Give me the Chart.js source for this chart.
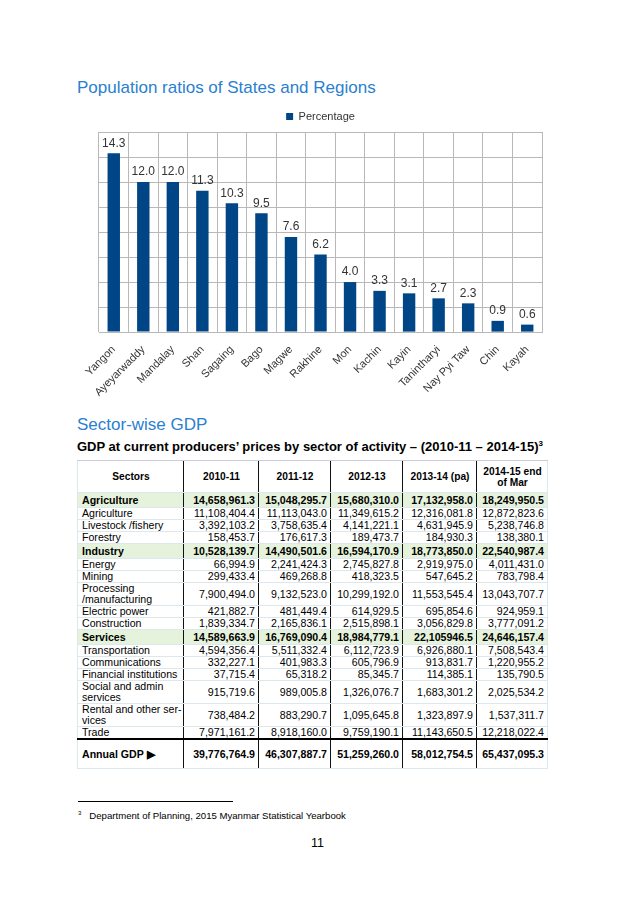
<!DOCTYPE html>
<html>
<head>
<meta charset="utf-8">
<script src="https://cdn.jsdelivr.net/npm/chart.js@4"></script>
<style>
  body { margin: 0; background: #fff; font-family: "Liberation Sans", Arial, sans-serif; }
  #page { position: relative; width: 639px; height: 903px; overflow: hidden; }
  .h2 { position: absolute; left: 77px; color: #2a80d0; font-size: 17px; }
  #chartBox { position: absolute; left: 70px; top: 99px; width: 490px; height: 311px; }
  #tblTitle { position: absolute; left: 77px; top: 439px; font-weight: bold; font-size: 13px; color: #000; white-space: nowrap; }
  #tblTitle sup { font-size: 8px; }
  table { position: absolute; left: 77px; top: 460px; width: 470px; border-collapse: collapse; table-layout: fixed; font-size: 10.6px; line-height: 11px; color: #000; }
  td, th { padding: 0 3px 0 4px; border-top: 1px solid #dde8ee; border-bottom: 1px solid #dde8ee; overflow: hidden; white-space: nowrap; }
  td + td, th + th { border-left: 1.5px solid #111; text-align: right; }
  th { font-weight: bold; text-align: center !important; height: 31px; border-top: 1px solid #ccd; font-size: 10.2px; }
  tr.grp td { background: #e6f3dc; font-weight: bold; height: 14px; }
  tr.sub td { height: 11px; }
  tr.dbl td { height: 22px; }
  tr.tot td { border-top: 2px solid #000; font-weight: bold; height: 28px; }
  table { border-left: 1px solid #dde8ee; border-right: 1px solid #dde8ee; }
  #fnLine { position: absolute; left: 78px; top: 801px; width: 155px; border-top: 1px solid #000; }
  #fn { position: absolute; left: 78px; top: 810px; font-size: 9.6px; color: #000; }
  #fn sup { font-size: 6px; margin-right: 8px; }
  #pg { position: absolute; left: 311px; top: 836px; font-size: 12.5px; color: #000; }
</style>
</head>
<body>
<div id="page">
  <div class="h2" style="top:78px">Population ratios of States and Regions</div>
  <div id="chartBox"><canvas id="popChart"></canvas></div>
  <div class="h2" style="top:415px">Sector-wise GDP</div>
  <div id="tblTitle">GDP at current producers’ prices by sector of activity – (2010-11 – 2014-15)<sup>3</sup></div>
  <table id="gdp"></table>
  <div id="fnLine"></div>
  <div id="fn"><sup>3</sup>Department of Planning, 2015 Myanmar Statistical Yearbook</div>
  <div id="pg">11</div>
</div>
<script>
var regions = ['Yangon', 'Ayeyarwaddy', 'Mandalay', 'Shan', 'Sagaing', 'Bago', 'Magwe', 'Rakhine',
    'Mon', 'Kachin', 'Kayin', 'Tanintharyi', 'Nay Pyi Taw', 'Chin', 'Kayah'];
var percentages = [14.3, 12.0, 12.0, 11.3, 10.3, 9.5, 7.6, 6.2, 4.0, 3.3, 3.1, 2.7, 2.3, 0.9, 0.6];

var years = ['2010-11', '2011-12', '2012-13', '2013-14 (pa)', '2014-15 end<br>of Mar'];
var sectors = ['Agriculture', 'Agriculture', 'Livestock /fishery', 'Forestry', 'Industry', 'Energy', 'Mining',
    'Processing<br>/manufacturing', 'Electric power', 'Construction', 'Services', 'Transportation',
    'Communications', 'Financial institutions', 'Social and admin<br>services', 'Rental and other ser-<br>vices',
    'Trade', 'Annual GDP &#9654;'];
var rowKind = ['grp', 'sub', 'sub', 'sub', 'grp', 'sub', 'sub', 'dbl', 'sub', 'sub', 'grp', 'sub', 'sub', 'sub',
    'dbl', 'dbl', 'sub', 'tot'];
var gdp2010 = ['14,658,961.3', '11,108,404.4', '3,392,103.2', '158,453.7', '10,528,139.7', '66,994.9', '299,433.4',
    '7,900,494.0', '421,882.7', '1,839,334.7', '14,589,663.9', '4,594,356.4', '332,227.1', '37,715.4', '915,719.6',
    '738,484.2', '7,971,161.2', '39,776,764.9'];
var gdp2011 = ['15,048,295.7', '11,113,043.0', '3,758,635.4', '176,617.3', '14,490,501.6', '2,241,424.3', '469,268.8',
    '9,132,523.0', '481,449.4', '2,165,836.1', '16,769,090.4', '5,511,332.4', '401,983.3', '65,318.2', '989,005.8',
    '883,290.7', '8,918,160.0', '46,307,887.7'];
var gdp2012 = ['15,680,310.0', '11,349,615.2', '4,141,221.1', '189,473.7', '16,594,170.9', '2,745,827.8', '418,323.5',
    '10,299,192.0', '614,929.5', '2,515,898.1', '18,984,779.1', '6,112,723.9', '605,796.9', '85,345.7', '1,326,076.7',
    '1,095,645.8', '9,759,190.1', '51,259,260.0'];
var gdp2013 = ['17,132,958.0', '12,316,081.8', '4,631,945.9', '184,930.3', '18,773,850.0', '2,919,975.0', '547,645.2',
    '11,553,545.4', '695,854.6', '3,056,829.8', '22,105946.5', '6,926,880.1', '913,831.7', '114,385.1', '1,683,301.2',
    '1,323,897.9', '11,143,650.5', '58,012,754.5'];
var gdp2014 = ['18,249,950.5', '12,872,823.6', '5,238,746.8', '138,380.1', '22,540,987.4', '4,011,431.0', '783,798.4',
    '13,043,707.7', '924,959.1', '3,777,091.2', '24,646,157.4', '7,508,543.4', '1,220,955.2', '135,790.5', '2,025,534.2',
    '1,537,311.7', '12,218,022.4', '65,437,095.3'];

// table
var colW = [106, 75, 72, 72, 74, 71];
var html = '<colgroup>' + colW.map(function (w) { return '<col style="width:' + w + 'px">'; }).join('') + '</colgroup>';
html += '<tr><th>Sectors</th>' + years.map(function (y) { return '<th>' + y + '</th>'; }).join('') + '</tr>';
for (var i = 0; i < sectors.length; i++) {
    html += '<tr class="' + rowKind[i] + '"><td>' + sectors[i] + '</td><td>' + gdp2010[i] + '</td><td>' + gdp2011[i] +
        '</td><td>' + gdp2012[i] + '</td><td>' + gdp2013[i] + '</td><td>' + gdp2014[i] + '</td></tr>';
}
document.getElementById('gdp').innerHTML = html;

// value labels above the bars
var barValues = {
    id: 'barValues',
    afterDatasetsDraw: function (chart) {
        var ctx = chart.ctx;
        var meta = chart.getDatasetMeta(0);
        ctx.save();
        ctx.font = '12px "Liberation Sans", Arial, sans-serif';
        ctx.fillStyle = '#333';
        ctx.textAlign = 'center';
        ctx.textBaseline = 'bottom';
        meta.data.forEach(function (bar, i) {
            ctx.fillText(percentages[i].toFixed(1), bar.x, bar.y - 4);
        });
        ctx.restore();
    }
};

var data = {
    labels: regions,
    datasets: [{
        label: 'Percentage',
        backgroundColor: '#004586',
        data: percentages,
        barPercentage: 0.42,
        categoryPercentage: 1.0,
    }]
};

var config = {
    type: 'bar',
    data,
    options: {
        responsive: true,
        maintainAspectRatio: false,
        animation: false,
        layout: { padding: { left: 29, right: 18, top: 2, bottom: 0 } },
        plugins: {
            legend: {
                labels: {
                    boxWidth: 7, boxHeight: 7, color: '#333', padding: 10,
                    font: { size: 11, family: '"Liberation Sans", Arial, sans-serif' }
                }
            },
            tooltip: { enabled: false }
        },
        scales: {
            x: {
                grid: { color: '#b8b8b8', drawTicks: false },
                border: { color: '#b8b8b8' },
                ticks: {
                    color: '#333', maxRotation: 45, minRotation: 45, padding: 11,
                    font: { size: 11, family: '"Liberation Sans", Arial, sans-serif' }
                }
            },
            y: {
                min: 0, max: 16,
                grid: { color: '#b8b8b8', drawTicks: false },
                border: { display: false },
                ticks: { display: false, stepSize: 2 }
            }
        }
    },
    plugins: [barValues]
};

var popChart = new Chart(document.getElementById('popChart'), config);
</script>
</body>
</html>
